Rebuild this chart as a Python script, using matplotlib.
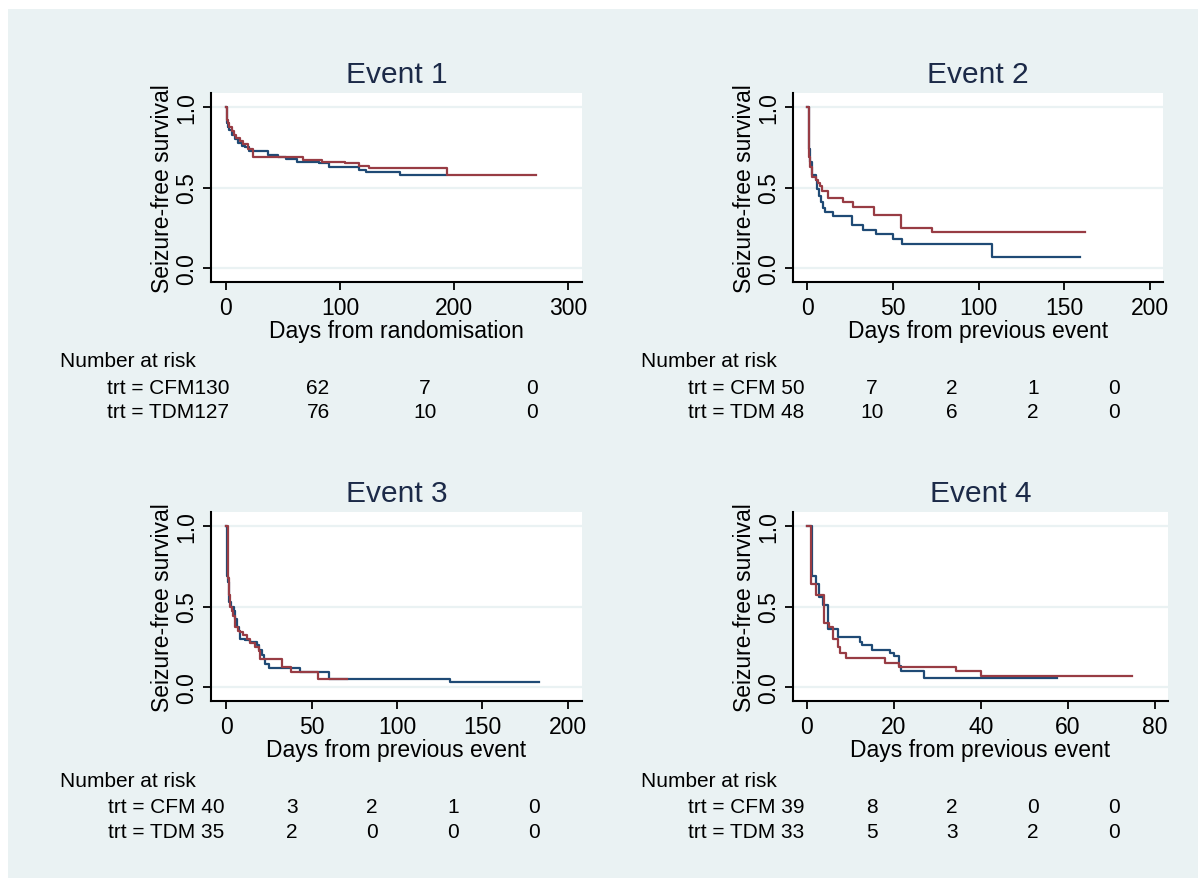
import matplotlib
matplotlib.use("Agg")
import matplotlib.pyplot as plt
from matplotlib.patches import Rectangle

plt.rcParams['font.family'] = ['Liberation Sans', 'DejaVu Sans']

W, H = 1198, 879

# Kaplan-Meier step data (time in days, survival)
# Event 1
e1_cfm_t = [0, 1, 2, 3, 5, 8, 11, 14, 17, 20, 37, 46, 53, 62, 82, 90, 117, 123, 153, 193]
e1_cfm_s = [1.0, 0.90, 0.88, 0.86, 0.83, 0.80, 0.78, 0.76, 0.75, 0.73, 0.705, 0.69, 0.675, 0.66, 0.65, 0.63, 0.607, 0.596, 0.58, 0.58]
e1_tdm_t = [0, 1, 2, 3, 5, 7, 9, 12, 15, 19, 24, 68, 84, 104, 117, 125, 194, 272]
e1_tdm_s = [1.0, 0.92, 0.90, 0.88, 0.85, 0.83, 0.81, 0.79, 0.77, 0.74, 0.69, 0.67, 0.66, 0.65, 0.635, 0.62, 0.58, 0.58]
# Event 2
e2_cfm_t = [0, 1, 2, 2.7, 5.4, 6, 7, 8, 9.3, 10.5, 15, 26.5, 32.7, 40.5, 50, 55.6, 107.6, 159]
e2_cfm_s = [1.0, 0.74, 0.66, 0.58, 0.544, 0.49, 0.45, 0.41, 0.37, 0.345, 0.324, 0.266, 0.234, 0.209, 0.178, 0.15, 0.069, 0.069]
e2_tdm_t = [0, 1, 2, 3, 5.5, 6.5, 7.5, 8.5, 12, 21, 27, 39, 55, 73, 162]
e2_tdm_s = [1.0, 0.69, 0.63, 0.565, 0.545, 0.53, 0.51, 0.48, 0.433, 0.412, 0.377, 0.328, 0.245, 0.22, 0.22]
# Event 3
e3_cfm_t = [0, 0.6, 1, 2, 3, 4.7, 5.5, 6.2, 7.4, 8.2, 11, 14, 18, 19.5, 21, 22, 23, 25, 43, 60, 131, 183]
e3_cfm_s = [1.0, 0.69, 0.65, 0.53, 0.50, 0.47, 0.42, 0.37, 0.35, 0.30, 0.29, 0.28, 0.26, 0.23, 0.20, 0.17, 0.14, 0.115, 0.088, 0.05, 0.03, 0.03]
e3_tdm_t = [0, 1, 2, 2.5, 3.3, 4.3, 5.3, 7.2, 8.2, 9.7, 12, 14, 17, 19, 20, 32.5, 37.8, 54, 71]
e3_tdm_s = [1.0, 0.68, 0.57, 0.50, 0.47, 0.44, 0.37, 0.35, 0.34, 0.32, 0.30, 0.27, 0.25, 0.22, 0.17, 0.12, 0.09, 0.046, 0.046]
# Event 4
e4_cfm_t = [0, 1.1, 2.1, 2.8, 3.8, 4.8, 7.1, 12.1, 12.7, 15, 19, 20, 21.2, 21.7, 26.8, 57.5]
e4_cfm_s = [1.0, 0.69, 0.64, 0.56, 0.51, 0.36, 0.31, 0.28, 0.26, 0.23, 0.21, 0.19, 0.13, 0.10, 0.055, 0.055]
e4_tdm_t = [0, 1, 2.1, 4, 5, 6.1, 7.1, 7.7, 8.9, 17.9, 21.2, 34.2, 40, 74.8]
e4_tdm_s = [1.0, 0.64, 0.57, 0.40, 0.37, 0.30, 0.25, 0.21, 0.18, 0.15, 0.125, 0.10, 0.067, 0.067]

titles = ['Event 1', 'Event 2', 'Event 3', 'Event 4']
xlabels = ['Days from randomisation', 'Days from previous event',
           'Days from previous event', 'Days from previous event']
xticks = [[0, 100, 200, 300], [0, 50, 100, 150, 200], [0, 50, 100, 150, 200], [0, 20, 40, 60, 80]]
xlims = [(-13, 312), (-8.2, 207.6), (-8.8, 208.2), (-3.2, 83)]

# number at risk tables
risk_cfm = [[130, 62, 7, 0], [50, 7, 2, 1, 0], [40, 3, 2, 1, 0], [39, 8, 2, 0, 0]]
risk_tdm = [[127, 76, 10, 0], [48, 10, 6, 2, 0], [35, 2, 0, 0, 0], [33, 5, 3, 2, 0]]

curves = [(e1_cfm_t, e1_cfm_s, e1_tdm_t, e1_tdm_s),
          (e2_cfm_t, e2_cfm_s, e2_tdm_t, e2_tdm_s),
          (e3_cfm_t, e3_cfm_s, e3_tdm_t, e3_tdm_s),
          (e4_cfm_t, e4_cfm_s, e4_tdm_t, e4_tdm_s)]

# axes boxes in pixels: left, top, right, bottom
boxes = [(211, 94, 582, 283), (793, 94, 1163, 283), (211, 513, 582, 702), (793, 513, 1168, 702)]
# where the tables start (x of heading, x of row labels, y of "Number at risk")
table_pos = [(60, 107, 362), (641, 688, 362), (60, 108, 782), (641, 688, 782)]

navy = '#1f4a75'
maroon = '#983c44'
bg = '#eaf2f3'

fig = plt.figure(figsize=(W / 100, H / 100), dpi=100)
fig.patch.set_facecolor('white')
fig.patches.append(Rectangle((8 / W, 0), 1, 1 - 10 / H, transform=fig.transFigure,
                             facecolor=bg, edgecolor='none', zorder=-10))


def fx(x):
    return x / W


def fy(y):
    return 1 - y / H


for i in range(4):
    l, t, r, b = boxes[i]
    ax = fig.add_axes([fx(l), fy(b), (r - l) / W, (b - t) / H])
    ct, cs, tt, ts = curves[i]
    for yv in [0, 0.5, 1.0]:
        ax.axhline(yv, color=bg, lw=1.6, zorder=0)
    ax.step(ct, cs, where='post', color=navy, lw=1.6)
    ax.step(tt, ts, where='post', color=maroon, lw=1.6)
    ax.set_xlim(xlims[i])
    ax.set_ylim(-0.09, 1.09)
    ax.set_xticks(xticks[i])
    ax.set_yticks([0, 0.5, 1.0])
    ax.set_yticklabels(['0.0', '0.5', '1.0'], rotation=90, va='center')
    ax.spines['top'].set_visible(False)
    ax.spines['right'].set_visible(False)
    ax.spines['left'].set_linewidth(1.5)
    ax.spines['bottom'].set_linewidth(1.5)
    ax.tick_params(direction='out', length=6, width=1.3, labelsize=16.5)
    ax.tick_params(axis='x', pad=4)
    ax.tick_params(axis='y', pad=3)
    ax.set_xlabel(xlabels[i], fontsize=16.5, labelpad=0)
    ax.set_ylabel('Seizure-free survival', fontsize=16.5, labelpad=1)
    ax.set_title(titles[i], fontsize=21.5, color='#1c2a48', pad=8)

    # number at risk table
    x0, xl, y0 = table_pos[i]
    ncol = len(risk_cfm[i]) - 1
    if ncol == 3:
        offs = [211, 318, 425]
    else:
        offs = [184, 264, 345, 426]
    fig.text(fx(x0), fy(y0), 'Number at risk', fontsize=15, va='center', ha='left')
    for row, (g, vals) in enumerate([('CFM', risk_cfm[i]), ('TDM', risk_tdm[i])]):
        yy = fy(y0 + 26 + 25 * row)
        fig.text(fx(xl), yy, f'trt = {g}{vals[0]:>3}', fontsize=15, va='center', ha='left')
        for k in range(ncol):
            fig.text(fx(xl + offs[k]), yy, str(vals[k + 1]), fontsize=15, va='center', ha='center')

plt.savefig('out.png', dpi=100)
